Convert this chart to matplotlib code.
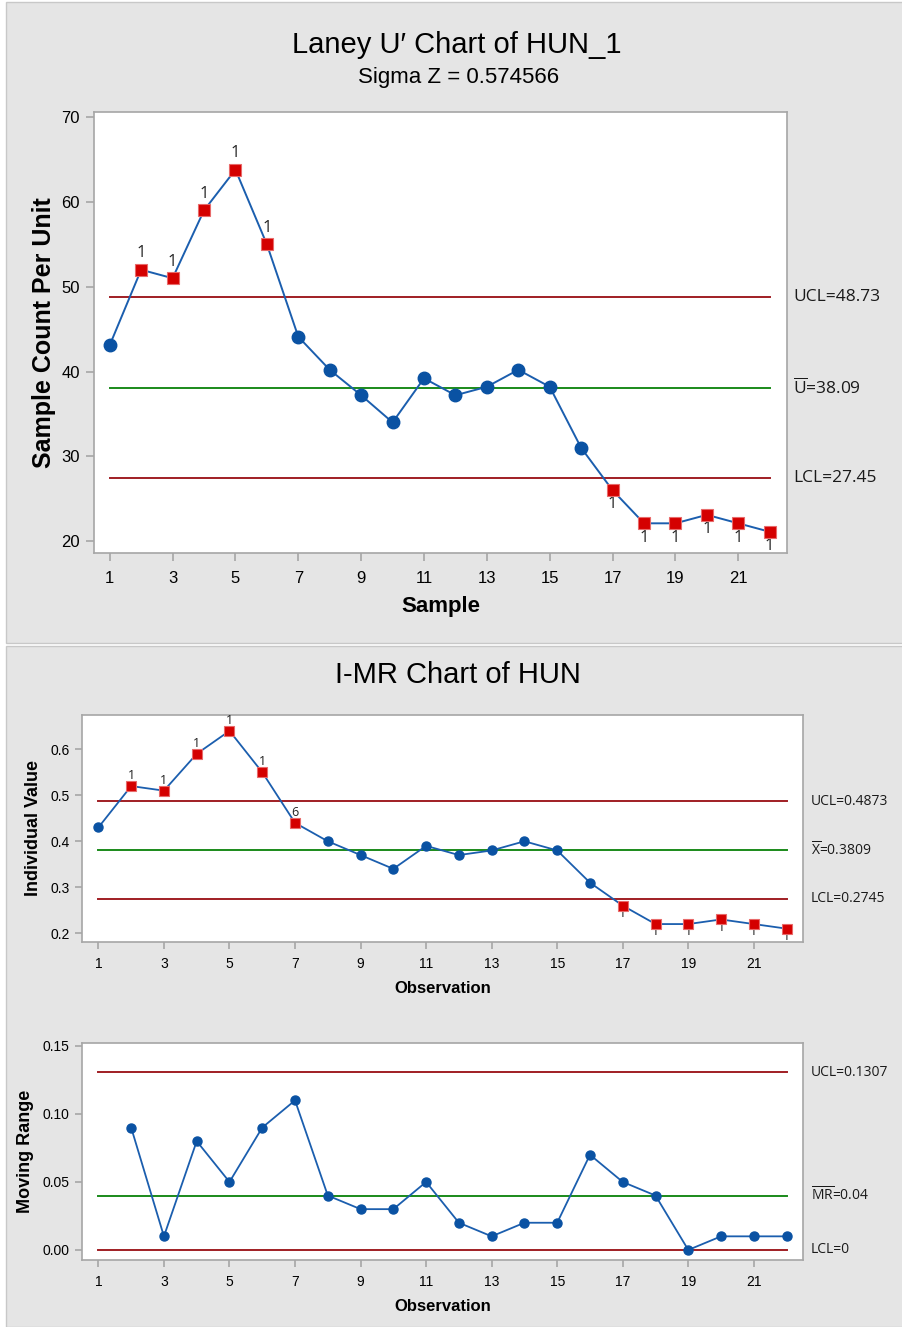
import numpy as np
import matplotlib
matplotlib.use('Agg')
import matplotlib.pyplot as plt
from matplotlib.patches import Rectangle
import matplotlib.transforms as mtransforms

plt.rcParams['font.family'] = ['Liberation Sans', 'DejaVu Sans']
plt.rcParams['mathtext.fontset'] = 'custom'
plt.rcParams['mathtext.rm'] = 'Open Sans'

W, H = 903, 1327

# data
samples = list(range(1, 23))
u_values = [43.1, 52.0, 51.0, 59.0, 63.8, 55.0, 44.1, 40.2, 37.2, 34.0, 39.2,
            37.2, 38.2, 40.2, 38.2, 31.0, 26.0, 22.1, 22.1, 23.1, 22.1, 21.1]
u_center, u_ucl, u_lcl = 38.09, 48.73, 27.45
u_flags = {2: '1', 3: '1', 4: '1', 5: '1', 6: '1',
           17: '1', 18: '1', 19: '1', 20: '1', 21: '1', 22: '1'}

i_values = [0.43, 0.52, 0.51, 0.59, 0.64, 0.55, 0.44, 0.40, 0.37, 0.34, 0.39,
            0.37, 0.38, 0.40, 0.38, 0.31, 0.26, 0.22, 0.22, 0.23, 0.22, 0.21]
i_center, i_ucl, i_lcl = 0.3809, 0.4873, 0.2745
i_flags = {2: '1', 3: '1', 4: '1', 5: '1', 6: '1', 7: '6',
           17: '1', 18: '1', 19: '1', 20: '1', 21: '1', 22: '1'}

mr_obs = list(range(2, 23))
mr_values = [0.09, 0.01, 0.08, 0.05, 0.09, 0.11, 0.04, 0.03, 0.03, 0.05, 0.02,
             0.01, 0.02, 0.02, 0.07, 0.05, 0.04, 0.00, 0.01, 0.01, 0.01]
mr_center, mr_ucl, mr_lcl = 0.04, 0.1307, 0.0

line_blue = '#1b5eae'
dot_blue = '#0a52a3'
sq_red = '#d40000'
lim_red = '#a01e24'
ctr_green = '#1a8a1a'
spine_gray = '#a6a6a6'
panel_gray = '#e5e5e5'

fig = plt.figure(figsize=(W / 100, H / 100), dpi=100, facecolor='white')

# gray panels
fig.patches.append(Rectangle((6 / W, 1 - 643 / H), 897 / W, 641 / H, transform=fig.transFigure,
                             facecolor=panel_gray, edgecolor='#c8c8c8', linewidth=1, zorder=-5))
fig.patches.append(Rectangle((6 / W, 0), 897 / W, 1 - 646 / H, transform=fig.transFigure,
                             facecolor=panel_gray, edgecolor='#c8c8c8', linewidth=1, zorder=-5))


def make_ax(x0, y0, x1, y1):
    ax = fig.add_axes([x0 / W, 1 - y1 / H, (x1 - x0) / W, (y1 - y0) / H])
    ax.set_facecolor('white')
    for s in ax.spines.values():
        s.set_color(spine_gray)
        s.set_linewidth(1.2)
    ax.tick_params(direction='out', color=spine_gray, length=6, width=1.2)
    return ax


def draw_chart(ax, xs, ys, flags, ms_c, ms_s, lw, lab_fs, off, off_below):
    ax.plot(xs, ys, color=line_blue, linewidth=lw, zorder=3)
    cx = [x for x, y in zip(xs, ys) if x not in flags]
    cy = [y for x, y in zip(xs, ys) if x not in flags]
    ax.plot(cx, cy, 'o', color=dot_blue, markersize=ms_c, zorder=4)
    fx = [x for x, y in zip(xs, ys) if x in flags]
    fy = [y for x, y in zip(xs, ys) if x in flags]
    ax.plot(fx, fy, 's', color=sq_red, markeredgecolor='#e86a6a', markeredgewidth=0.8,
            markersize=ms_s, zorder=4)
    for x, y in zip(xs, ys):
        if x in flags:
            if x < 12:
                ax.annotate(flags[x], (x, y), xytext=(0, off), textcoords='offset points',
                            ha='center', va='bottom', fontsize=lab_fs, color='#222222',
                            family='Open Sans', zorder=5)
            else:
                ax.annotate(flags[x], (x, y), xytext=(0, -off_below), textcoords='offset points',
                            ha='center', va='top', fontsize=lab_fs, color='#222222',
                            family='Open Sans', zorder=2)


def limit_lines(ax, xs, levels, labels, colors, xfig, fs):
    trans = mtransforms.blended_transform_factory(fig.transFigure, ax.transData)
    for lv, lb, c in zip(levels, labels, colors):
        ax.plot([xs[0], xs[-1]], [lv, lv], color=c, linewidth=1.4, zorder=2)
        ax.text(xfig / W, lv, lb, transform=trans, ha='left', va='center',
                fontsize=fs, color='#1a1a1a', family='Open Sans')


# ---------- Laney U' chart ----------
fig.text(457 / W, 1 - 45 / H, "Laney U\u2032 Chart of HUN_1", ha='center', va='center', fontsize=21)
fig.text(459 / W, 1 - 77 / H, "Sigma Z = 0.574566", ha='center', va='center', fontsize=16)

ax1 = make_ax(94, 112, 787, 553)
limit_lines(ax1, samples, [u_ucl, u_center, u_lcl],
            ['UCL=48.73', r'$\overline{\mathrm{U}}$=38.09', 'LCL=27.45'],
            [lim_red, ctr_green, lim_red], 793, 12.5)
draw_chart(ax1, samples, u_values, u_flags, 9, 9, 1.4, 12, 6, 4.5)
ax1.set_xlim(0.5, 22.55)
ax1.set_ylim(18.6, 70.6)
ax1.set_xticks(range(1, 23, 2))
ax1.set_yticks(range(20, 71, 10))
ax1.tick_params(labelsize=12, pad=4)
ax1.tick_params(axis='x', pad=7)
ax1.set_xlabel('Sample', fontsize=16, fontweight='bold', labelpad=7)
ax1.set_ylabel('Sample Count Per Unit', fontsize=18, fontweight='bold', labelpad=4)

# ---------- I-MR chart ----------
fig.text(458 / W, 1 - 675 / H, "I-MR Chart of HUN", ha='center', va='center', fontsize=21)

ax2 = make_ax(82, 715, 803, 942)
limit_lines(ax2, samples, [i_ucl, i_center, i_lcl],
            ['UCL=0.4873', r'$\overline{\mathrm{X}}$=0.3809', 'LCL=0.2745'],
            [lim_red, ctr_green, lim_red], 811, 10)
draw_chart(ax2, samples, i_values, i_flags, 6.5, 6.5, 1.3, 9, 3, 1)
ax2.set_xlim(0.5, 22.5)
ax2.set_ylim(0.181, 0.6745)
ax2.set_xticks(range(1, 23, 2))
ax2.set_yticks([0.2, 0.3, 0.4, 0.5, 0.6])
ax2.set_yticklabels(['0.2', '0.3', '0.4', '0.5', '0.6'])
ax2.tick_params(labelsize=10, pad=4, length=5)
ax2.tick_params(axis='x', pad=6)
ax2.set_xlabel('Observation', fontsize=12, fontweight='bold', labelpad=7)
ax2.set_ylabel('Individual Value', fontsize=13, fontweight='bold', labelpad=6)

ax3 = make_ax(82, 1043, 803, 1260)
limit_lines(ax3, samples, [mr_ucl, mr_center, mr_lcl],
            ['UCL=0.1307', r'$\overline{\mathrm{MR}}$=0.04', 'LCL=0'],
            [lim_red, ctr_green, lim_red], 811, 10)
draw_chart(ax3, mr_obs, mr_values, {}, 6.5, 6.5, 1.3, 9, 3, 1)
ax3.set_xlim(0.5, 22.5)
ax3.set_ylim(-0.0074, 0.1522)
ax3.set_xticks(range(1, 23, 2))
ax3.set_yticks([0.0, 0.05, 0.10, 0.15])
ax3.set_yticklabels(['0.00', '0.05', '0.10', '0.15'])
ax3.tick_params(labelsize=10, pad=4, length=5)
ax3.tick_params(axis='x', pad=6)
ax3.set_xlabel('Observation', fontsize=12, fontweight='bold', labelpad=7)
ax3.set_ylabel('Moving Range', fontsize=13, fontweight='bold', labelpad=6)

fig.savefig('out.png', dpi=100, facecolor='white')
